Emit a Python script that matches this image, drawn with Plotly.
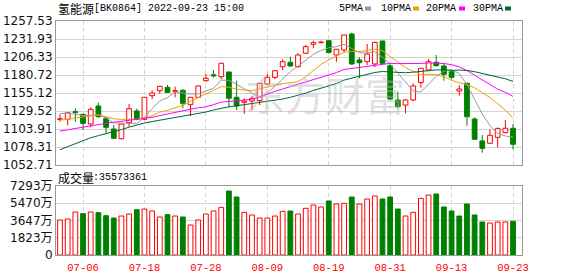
import plotly.graph_objects as go

# ---------------- data ----------------
dates = [
    "07-01", "07-04", "07-05", "07-06", "07-07", "07-08", "07-11", "07-12", "07-13", "07-14",
    "07-15", "07-18", "07-19", "07-20", "07-21", "07-22", "07-25", "07-26", "07-27", "07-28",
    "07-29", "08-01", "08-02", "08-03", "08-04", "08-05", "08-08", "08-09", "08-10", "08-11",
    "08-12", "08-15", "08-16", "08-17", "08-18", "08-19", "08-22", "08-23", "08-24", "08-25",
    "08-26", "08-29", "08-30", "08-31", "09-01", "09-02", "09-05", "09-06", "09-07", "09-08",
    "09-09", "09-13", "09-14", "09-15", "09-16", "09-19", "09-20", "09-21", "09-22", "09-23",
]
opens = [
    1117.5, 1117.7, 1128.6, 1124.8, 1111.0, 1136.6, 1118.6, 1103.9, 1090.1, 1112.9,
    1129.5, 1117.7, 1151.3, 1158.4, 1163.2, 1157.5, 1159.0, 1138.5, 1149.0, 1172.6,
    1181.0, 1178.3, 1185.0, 1149.0, 1142.0, 1143.7, 1144.2, 1167.9, 1177.4, 1192.5,
    1198.8, 1192.5, 1211.6, 1224.4, 1226.8, 1229.5, 1209.2, 1216.3, 1239.0, 1202.1,
    1199.7, 1196.4, 1229.1, 1194.0, 1145.2, 1138.0, 1145.2, 1169.9, 1187.8, 1198.8,
    1193.5, 1185.4, 1158.0, 1168.9, 1118.1, 1086.9, 1083.6, 1092.1, 1098.7, 1104.9,
]
highs = [
    1124.8, 1127.5, 1133.3, 1125.5, 1134.8, 1141.3, 1121.4, 1109.6, 1111.5, 1139.5,
    1132.8, 1149.5, 1159.0, 1165.0, 1166.5, 1164.2, 1160.4, 1149.5, 1165.5, 1182.1,
    1187.5, 1197.8, 1185.5, 1172.6, 1147.6, 1150.9, 1169.3, 1182.1, 1187.2, 1203.1,
    1206.8, 1211.6, 1223.4, 1229.5, 1229.5, 1230.0, 1217.7, 1238.0, 1240.9, 1205.9,
    1224.8, 1228.0, 1229.5, 1197.4, 1157.1, 1146.0, 1168.9, 1190.7, 1203.5, 1209.2,
    1197.4, 1186.8, 1166.5, 1169.8, 1120.5, 1095.4, 1103.5, 1106.3, 1116.7, 1111.0,
]
lows = [
    1114.3, 1109.2, 1114.3, 1102.5, 1106.3, 1120.0, 1096.8, 1089.7, 1089.2, 1107.2,
    1116.3, 1116.8, 1146.6, 1153.7, 1155.5, 1149.0, 1133.3, 1122.4, 1148.0, 1171.2,
    1177.0, 1174.5, 1134.8, 1130.9, 1125.3, 1130.9, 1138.0, 1166.5, 1174.6, 1187.8,
    1192.5, 1191.6, 1210.5, 1218.7, 1225.8, 1211.5, 1199.7, 1212.6, 1195.0, 1176.0,
    1195.0, 1191.7, 1196.0, 1145.2, 1133.3, 1126.2, 1143.7, 1162.7, 1186.3, 1192.5,
    1172.6, 1174.6, 1151.3, 1108.5, 1088.3, 1070.2, 1082.7, 1077.9, 1097.8, 1075.0,
]
closes = [
    1118.5, 1127.1, 1127.4, 1112.0, 1131.9, 1121.4, 1106.3, 1090.7, 1111.0, 1132.8,
    1117.7, 1149.0, 1155.1, 1164.6, 1156.0, 1158.5, 1140.5, 1149.0, 1165.1, 1176.0,
    1179.5, 1197.4, 1147.6, 1136.6, 1143.5, 1147.6, 1168.9, 1177.4, 1186.8, 1199.7,
    1193.5, 1209.2, 1221.0, 1226.7, 1227.5, 1212.6, 1217.3, 1237.6, 1196.4, 1198.2,
    1210.6, 1227.2, 1197.4, 1146.6, 1135.6, 1145.2, 1165.1, 1190.3, 1199.7, 1194.0,
    1181.7, 1177.4, 1160.8, 1121.4, 1089.3, 1076.4, 1095.0, 1104.5, 1105.0, 1082.2,
]
volumes = [  # 万
    3700, 3805, 4545, 4365, 4545, 4470, 4155, 3910, 4120, 4335,
    4790, 4860, 4650, 4015, 4260, 4120, 4015, 3170, 3700, 4335,
    4650, 5040, 6765, 6130, 4510, 4230, 3910, 3910, 4120, 4615,
    4650, 4335, 4935, 5285, 5075, 5710, 5390, 5460, 6130, 5390,
    5920, 6235, 5920, 6130, 4860, 4120, 4510, 5990, 6340, 6450,
    5075, 4650, 4120, 5390, 4230, 3490, 3380, 3490, 3490, 3557.3361,
]
ma5 = [
    1126.0, 1126.5, 1125.0, 1123.0, 1123.4, 1124.0, 1119.8, 1112.5, 1112.3, 1112.4,
    1111.7, 1120.2, 1133.1, 1143.8, 1148.5, 1156.6, 1154.9, 1153.7, 1153.8, 1157.8,
    1162.0, 1173.4, 1173.1, 1167.4, 1160.9, 1154.5, 1148.8, 1154.8, 1164.8, 1176.1,
    1185.3, 1193.3, 1202.0, 1210.0, 1215.6, 1219.4, 1221.0, 1224.3, 1218.3, 1212.4,
    1212.0, 1214.0, 1206.0, 1196.0, 1183.5, 1170.4, 1158.0, 1156.6, 1167.2, 1178.9,
    1186.2, 1188.6, 1182.7, 1167.1, 1146.1, 1125.1, 1108.6, 1097.3, 1094.0, 1092.6,
]
ma10 = [
    1116.7, 1117.5, 1119.5, 1121.0, 1123.0, 1124.0, 1121.5, 1118.5, 1117.5, 1117.9,
    1117.8, 1120.0, 1122.8, 1128.1, 1130.5, 1134.2, 1137.6, 1143.4, 1148.8, 1153.2,
    1159.3, 1164.2, 1163.4, 1160.6, 1159.4, 1158.3, 1161.1, 1164.0, 1166.1, 1168.5,
    1169.9, 1171.1, 1178.4, 1187.4, 1195.8, 1202.3, 1207.2, 1213.2, 1214.2, 1214.0,
    1215.7, 1217.5, 1215.2, 1207.1, 1198.0, 1191.2, 1186.0, 1181.3, 1181.6, 1181.2,
    1178.3, 1173.3, 1169.6, 1167.1, 1162.5, 1155.6, 1148.6, 1140.0, 1130.6, 1119.4,
]
ma20 = [
    1101.0, 1103.0, 1105.0, 1107.0, 1109.0, 1110.5, 1112.0, 1113.5, 1115.0, 1116.5,
    1117.5, 1118.5, 1120.5, 1123.0, 1125.5, 1128.0, 1130.0, 1132.0, 1134.0, 1135.5,
    1138.6, 1142.1, 1143.1, 1144.3, 1144.9, 1146.2, 1149.4, 1153.7, 1157.5, 1160.8,
    1164.6, 1167.6, 1170.9, 1174.0, 1177.6, 1180.3, 1184.1, 1188.6, 1190.1, 1191.3,
    1192.8, 1194.3, 1196.8, 1197.3, 1196.9, 1196.8, 1196.6, 1197.2, 1197.9, 1197.6,
    1197.0, 1195.4, 1192.4, 1187.1, 1180.2, 1173.4, 1167.3, 1160.6, 1156.1, 1150.3,
]
ma30 = [
    1074.5, 1079.0, 1083.5, 1088.0, 1091.5, 1094.5, 1097.0, 1100.0, 1103.0, 1106.5,
    1110.0, 1112.5, 1114.5, 1116.5, 1118.5, 1120.5, 1122.0, 1123.5, 1126.0, 1128.0,
    1131.0, 1133.5, 1135.5, 1137.0, 1138.5, 1140.0, 1141.5, 1143.5, 1145.0, 1146.5,
    1149.0, 1151.8, 1154.9, 1158.7, 1161.9, 1164.9, 1168.6, 1173.5, 1176.4, 1178.6,
    1181.6, 1184.3, 1185.7, 1185.1, 1184.4, 1183.9, 1184.8, 1186.1, 1187.3, 1187.9,
    1188.0, 1187.3, 1187.7, 1187.2, 1185.4, 1183.1, 1180.6, 1178.2, 1175.4, 1171.5,
]
price_ticks = [1052.71, 1078.31, 1103.91, 1129.52, 1155.12, 1180.72, 1206.33, 1231.93, 1257.53]
vol_ticks = [0, 1823, 3647, 5470, 7293]
vol_ticktext = ["0", "1823万", "3647万", "5470万", "7293万"]
tick_dates = ["07-06", "07-18", "07-28", "08-09", "08-19", "08-31", "09-13", "09-23"]
title_cn = "氢能源"
title_code = "[BK0864] 2022-09-23 15:00"
vol_label_cn = "成交量"
vol_label_num = ":35573361"
ma_names = ["5PMA", "10PMA", "20PMA", "30PMA"]

# ---------------- styles ----------------
RED = "#ff0000"
GREEN = "#008000"
MA_COLORS = ["#999999", "#f0a000", "#ff00ff", "#006633"]
GRID = "#d4d4d4"
BORDER = "#999999"
MONO = "Liberation Mono"
CJK = "Noto Sans CJK SC"

up = [c >= o for o, c in zip(opens, closes)]
body_base = [min(o, c) for o, c in zip(opens, closes)]
body_h = [abs(c - o) for o, c in zip(opens, closes)]
vol_up = [up[0]] + [closes[i] >= closes[i - 1] for i in range(1, len(closes))]

fig = go.Figure()

# candle wicks (upper + lower segments so hollow bodies stay hollow)
for flag, col in ((True, RED), (False, GREEN)):
    wx, wy = [], []
    for d, o, h, l, c, u in zip(dates, opens, highs, lows, closes, up):
        if u != flag:
            continue
        wx += [d, d, None, d, d, None]
        wy += [max(o, c), h, None, min(o, c), l, None]
    fig.add_trace(go.Scatter(x=wx, y=wy, mode="lines", line=dict(color=col, width=1),
                             hoverinfo="skip", showlegend=False, xaxis="x", yaxis="y"))

# candle bodies
fig.add_trace(go.Bar(
    x=dates, y=body_h, base=body_base, width=0.62,
    marker=dict(color=["white" if u else GREEN for u in up],
                line=dict(color=[RED if u else GREEN for u in up], width=1)),
    showlegend=False, xaxis="x", yaxis="y"))

# moving averages
for name, vals, col in zip(ma_names, [ma5, ma10, ma20, ma30], MA_COLORS):
    fig.add_trace(go.Scatter(x=dates, y=vals, mode="lines", name=name,
                             line=dict(color=col, width=1), showlegend=False,
                             xaxis="x", yaxis="y"))

# volume
fig.add_trace(go.Bar(
    x=dates, y=volumes, width=0.62,
    marker=dict(color=["white" if u else GREEN for u in vol_up],
                line=dict(color=[RED if u else GREEN for u in vol_up], width=1)),
    showlegend=False, xaxis="x2", yaxis="y2"))

W, H = 578, 276
L, R, T, B = 56, 56, 21, 21
PW, PH = W - L - R, H - T - B


def px(x):
    return (x - L) / PW


def py(y):
    return (H - B - y) / PH


price_dom = [py(165), 1.0]
vol_dom = [0.0, py(186)]
xr = [-0.52, 60.17]

common_x = dict(type="category", categoryorder="array", categoryarray=dates,
                range=xr, tickvals=tick_dates, ticktext=tick_dates,
                showgrid=True, gridcolor=GRID, griddash="4px,3px", gridwidth=1,
                showline=True, mirror=True, linecolor=BORDER, linewidth=1,
                zeroline=False, ticks="", fixedrange=True, automargin=False)

fig.update_layout(
    width=W, height=H,
    margin=dict(l=L, r=R, t=T, b=B, pad=0, autoexpand=False),
    paper_bgcolor="white", plot_bgcolor="white",
    barmode="overlay", showlegend=False,
    xaxis=dict(**common_x, domain=[0, 1], anchor="y", showticklabels=False),
    yaxis=dict(domain=price_dom, range=[price_ticks[0], price_ticks[-1]],
               tickvals=price_ticks, ticktext=[f"{v:.2f}" for v in price_ticks],
               showgrid=True, gridcolor=GRID, gridwidth=1, zeroline=False, automargin=False,
               showline=True, mirror=True, linecolor=BORDER, linewidth=1, ticks="",
               tickfont=dict(family="DejaVu Sans", size=12, color="#111111")),
    xaxis2=dict(**common_x, domain=[0, 1], anchor="y2", showticklabels=True,
                ticklabelstandoff=2,
                tickfont=dict(family=MONO, size=10.5, color=RED)),
    yaxis2=dict(domain=vol_dom, range=[0, vol_ticks[-1]], tickvals=vol_ticks,
                ticktext=vol_ticktext, showgrid=True, gridcolor=GRID, gridwidth=1,
                zeroline=False, showline=True, mirror=True, linecolor=BORDER, linewidth=1,
                ticks="", automargin=False,
                tickfont=dict(family="DejaVu Sans, " + CJK, size=12, color="#111111")),
)

ann = []
# watermark
ann.append(dict(text="东方财富", x=px(325), y=py(94), xref="paper", yref="paper",
                showarrow=False, xanchor="center", yanchor="middle",
                font=dict(family=CJK, size=40, color="rgba(185,185,185,0.45)")))
# title
ann.append(dict(text=title_cn, x=px(56), y=py(9), xref="paper", yref="paper",
                showarrow=False, xanchor="left", yanchor="middle",
                font=dict(family=CJK, size=12, color="#000000")))
ann.append(dict(text=title_code, x=px(92), y=py(9), xref="paper", yref="paper",
                showarrow=False, xanchor="left", yanchor="middle",
                font=dict(family=MONO, size=10, color="#000000")))
# volume label
ann.append(dict(text=vol_label_cn, x=px(56), y=py(177), xref="paper", yref="paper",
                showarrow=False, xanchor="left", yanchor="middle",
                font=dict(family=CJK, size=12, color="#000000")))
ann.append(dict(text=vol_label_num, x=px(91), y=py(177), xref="paper", yref="paper",
                showarrow=False, xanchor="left", yanchor="middle",
                font=dict(family=MONO, size=10, color="#000000")))
# MA legend
leg_x = [337, 379, 424, 471]
sq_x = [365, 413, 459, 505]
shapes = []
for name, lx, sx, col in zip(ma_names, leg_x, sq_x, MA_COLORS):
    ann.append(dict(text=name, x=px(lx), y=py(9), xref="paper", yref="paper",
                    showarrow=False, xanchor="left", yanchor="middle",
                    font=dict(family=MONO, size=10, color="#000000")))
    shapes.append(dict(type="rect", xref="paper", yref="paper",
                       x0=px(sx), x1=px(sx + 6), y0=py(10.5), y1=py(6.5),
                       fillcolor=col, line=dict(width=0)))

fig.update_layout(annotations=ann, shapes=shapes)

fig.write_html("out.html")
